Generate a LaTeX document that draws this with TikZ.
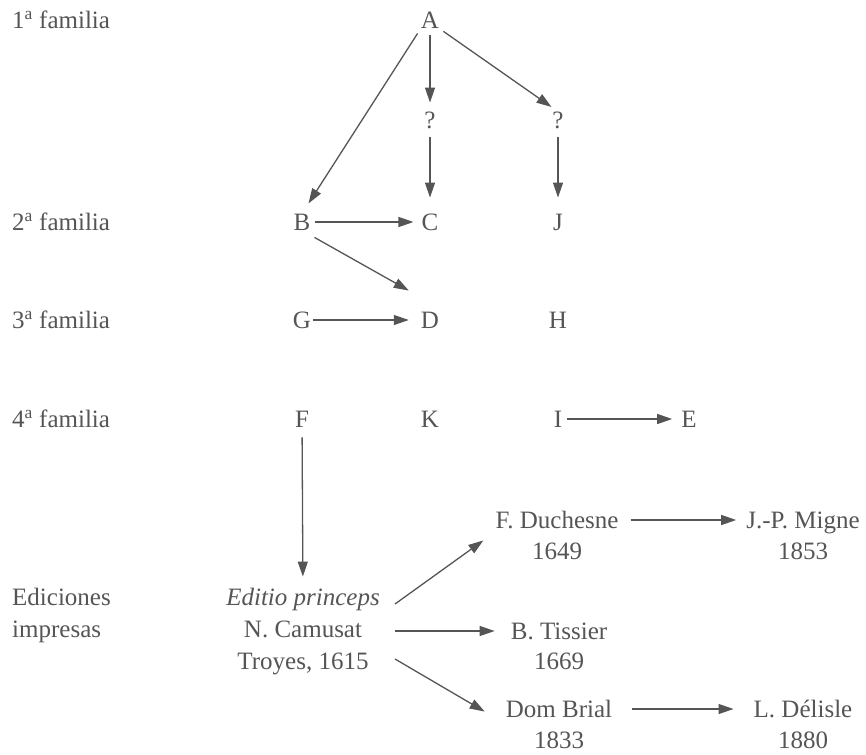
\documentclass[tikz,border=0pt]{standalone}
\usepackage{fontspec}
\setmainfont{Liberation Serif}
\usetikzlibrary{arrows.meta}
\definecolor{ink}{RGB}{85,85,85}
\begin{document}
\begin{tikzpicture}[x=1pt,y=-1pt,
  lbl/.style={inner sep=0pt,text height=16.5pt,text depth=0pt,font=\fontsize{25}{30}\selectfont,text=ink},
  side/.style={lbl,anchor=west},
  arr/.style={draw=ink,line width=1.3pt,-{Triangle[length=15pt,width=10pt]}}]
\useasboundingbox (0,0) rectangle (866,754);
% row labels
\node[side] (l1) at (12,20) {1\textsuperscript{a} familia};
\node[side] (l2) at (12,222) {2\textsuperscript{a} familia};
\node[side] (l3) at (12,320) {3\textsuperscript{a} familia};
\node[side] (l4) at (12,419) {4\textsuperscript{a} familia};
\node[side] (l5) at (12,597) {Ediciones};
\node[side] (l6) at (12,629) {impresas};
% manuscripts
\node[lbl] (A) at (430,20) {A};
\node[lbl] (q1) at (430,120) {?};
\node[lbl] (q2) at (558,120) {?};
\node[lbl] (B) at (302,222) {B};
\node[lbl] (C) at (430,222) {C};
\node[lbl] (J) at (558,222) {J};
\node[lbl] (G) at (302,320) {G};
\node[lbl] (D) at (430,320) {D};
\node[lbl] (H) at (558,320) {H};
\node[lbl] (F) at (302,419) {F};
\node[lbl] (K) at (430,419) {K};
\node[lbl] (I) at (558,419) {I};
\node[lbl] (E) at (689,419) {E};
% editions
\node[lbl] (ep) at (303,597) {\itshape Editio princeps};
\node[lbl] (nc) at (303,629) {N. Camusat};
\node[lbl] (tr) at (303,661) {Troyes, 1615};
\node[lbl] (dn) at (557,520) {F. Duchesne};
\node[lbl] (dny) at (557,551) {1649};
\node[lbl] (mg) at (803,520) {J.-P. Migne};
\node[lbl] (mgy) at (803,551) {1853};
\node[lbl] (ti) at (559,631) {B. Tissier};
\node[lbl] (tiy) at (559,661) {1669};
\node[lbl] (db) at (559,709) {Dom Brial};
\node[lbl] (dby) at (559,740) {1833};
\node[lbl] (dl) at (803,709) {L. Délisle};
\node[lbl] (dly) at (803,740) {1880};
\coordinate (s1) at (395,604);
\coordinate (s2) at (395,631);
\coordinate (s3) at (395,659);
% connectors
\draw[arr,shorten <=6pt,shorten >=12pt] (A.south west) -- (B.north);
\draw[arr,shorten <=7pt,shorten >=9pt] (A) -- (q1);
\draw[arr,shorten <=5pt,shorten >=8pt] (A.south east) -- (q2.north);
\draw[arr,shorten <=9pt,shorten >=16pt] (q1) -- (C);
\draw[arr,shorten <=9pt,shorten >=16pt] (q2) -- (J);
\draw[arr,shorten <=4pt,shorten >=8pt] (B) -- (C);
\draw[arr] ([shift={(4,7)}]B.south east) -- ([shift={(-12,-21)}]D.north west);
\draw[arr,shorten <=2pt,shorten >=12pt] (G) -- (D);
\draw[arr,shorten <=5pt,shorten >=9pt] (I) -- (E);
\draw[arr,shorten <=10pt,shorten >=12pt] (F) -- (ep);
\draw[arr] (s1) -- ([shift={(-12,12)}]dn.south west);
\draw[arr,shorten >=16pt] (s2) -- (ti.west);
\draw[arr] (s3) -- ([shift={(-21,11)}]db.north west);
\draw[arr,shorten <=12pt,shorten >=10pt] (dn) -- (mg);
\draw[arr,shorten <=20pt,shorten >=20pt] (db) -- (dl);
\end{tikzpicture}
\end{document}
